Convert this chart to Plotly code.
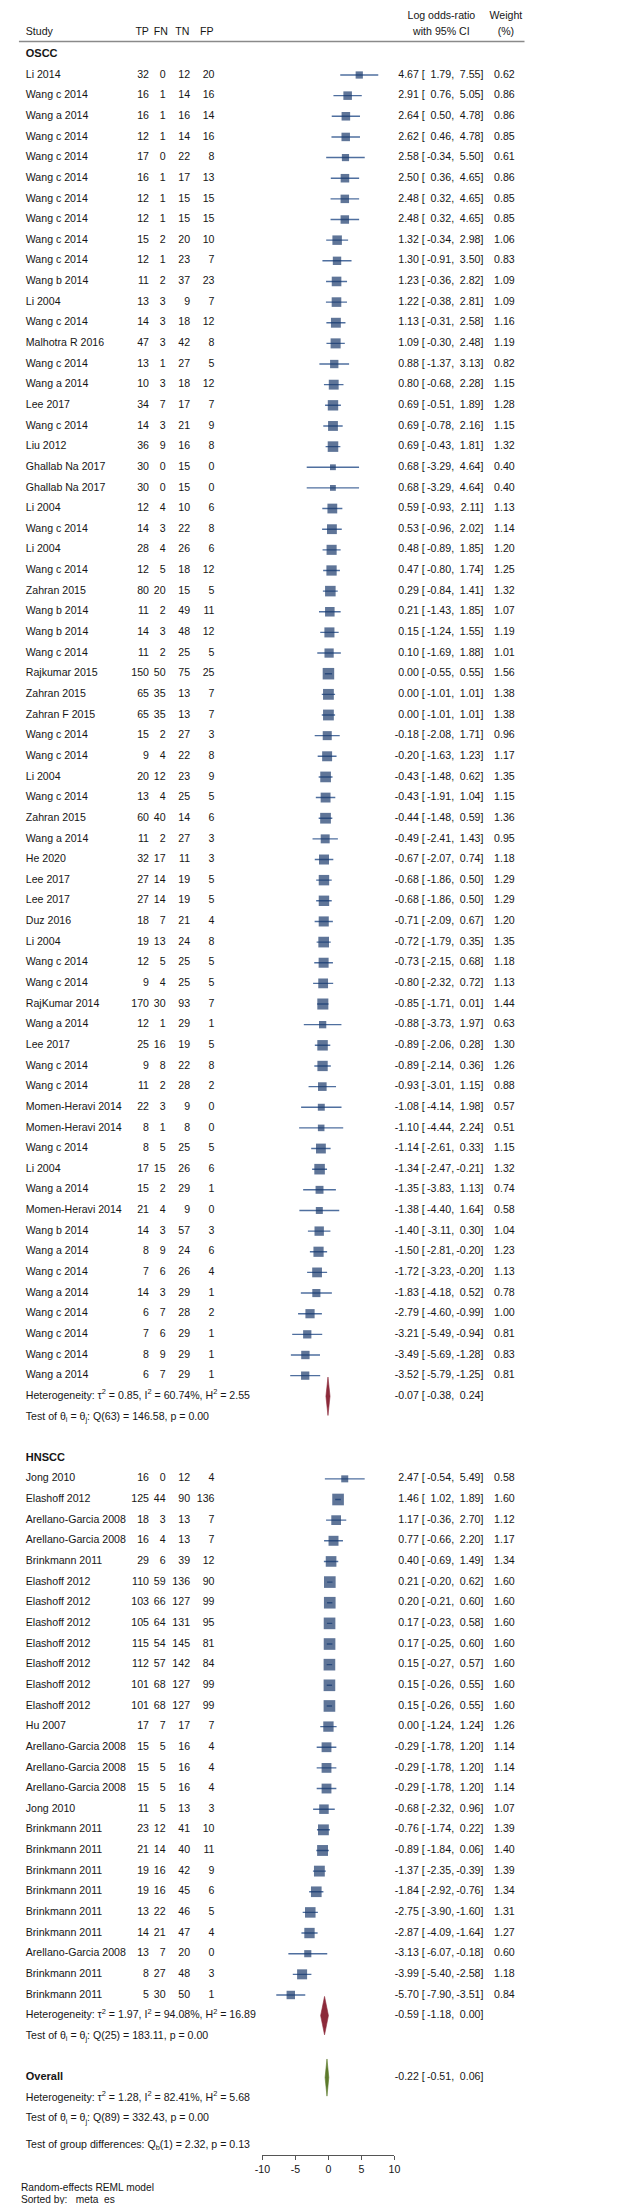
import math
import plotly.graph_objects as go

# ---------------- data ----------------
oscc_study = ["Li 2014", "Wang c 2014", "Wang a 2014", "Wang c 2014", "Wang c 2014", "Wang c 2014",
              "Wang c 2014", "Wang c 2014", "Wang c 2014", "Wang c 2014", "Wang b 2014", "Li 2004",
              "Wang c 2014", "Malhotra R 2016", "Wang c 2014", "Wang a 2014", "Lee 2017", "Wang c 2014",
              "Liu 2012", "Ghallab Na 2017", "Ghallab Na 2017", "Li 2004", "Wang c 2014", "Li 2004",
              "Wang c 2014", "Zahran 2015", "Wang b 2014", "Wang b 2014", "Wang c 2014", "Rajkumar 2015",
              "Zahran 2015", "Zahran F 2015", "Wang c 2014", "Wang c 2014", "Li 2004", "Wang c 2014",
              "Zahran 2015", "Wang a 2014", "He 2020", "Lee 2017", "Lee 2017", "Duz 2016", "Li 2004",
              "Wang c 2014", "Wang c 2014", "RajKumar 2014", "Wang a 2014", "Lee 2017", "Wang c 2014",
              "Wang c 2014", "Momen-Heravi 2014", "Momen-Heravi 2014", "Wang c 2014", "Li 2004",
              "Wang a 2014", "Momen-Heravi 2014", "Wang b 2014", "Wang a 2014", "Wang c 2014",
              "Wang a 2014", "Wang c 2014", "Wang c 2014", "Wang c 2014", "Wang a 2014"]
oscc_tp = [32, 16, 16, 12, 17, 16, 12, 12, 15, 12, 11, 13, 14, 47, 13, 10, 34, 14, 36, 30, 30, 12, 14, 28,
           12, 80, 11, 14, 11, 150, 65, 65, 15, 9, 20, 13, 60, 11, 32, 27, 27, 18, 19, 12, 9, 170, 12, 25,
           9, 11, 22, 8, 8, 17, 15, 21, 14, 8, 7, 14, 6, 7, 8, 6]
oscc_fn = [0, 1, 1, 1, 0, 1, 1, 1, 2, 1, 2, 3, 3, 3, 1, 3, 7, 3, 9, 0, 0, 4, 3, 4, 5, 20, 2, 3, 2, 50, 35,
           35, 2, 4, 12, 4, 40, 2, 17, 14, 14, 7, 13, 5, 4, 30, 1, 16, 8, 2, 3, 1, 5, 15, 2, 4, 3, 9, 6, 3,
           7, 6, 9, 7]
oscc_tn = [12, 14, 16, 14, 22, 17, 15, 15, 20, 23, 37, 9, 18, 42, 27, 18, 17, 21, 16, 15, 15, 10, 22, 26,
           18, 15, 49, 48, 25, 75, 13, 13, 27, 22, 23, 25, 14, 27, 11, 19, 19, 21, 24, 25, 25, 93, 29, 19,
           22, 28, 9, 8, 25, 26, 29, 9, 57, 24, 26, 29, 28, 29, 29, 29]
oscc_fp = [20, 16, 14, 16, 8, 13, 15, 15, 10, 7, 23, 7, 12, 8, 5, 12, 7, 9, 8, 0, 0, 6, 8, 6, 12, 5, 11,
           12, 5, 25, 7, 7, 3, 8, 9, 5, 6, 3, 3, 5, 5, 4, 8, 5, 5, 7, 1, 5, 8, 2, 0, 0, 5, 6, 1, 0, 3, 6,
           4, 1, 2, 1, 1, 1]
oscc_es = [4.67, 2.91, 2.64, 2.62, 2.58, 2.50, 2.48, 2.48, 1.32, 1.30, 1.23, 1.22, 1.13, 1.09, 0.88, 0.80,
           0.69, 0.69, 0.69, 0.68, 0.68, 0.59, 0.53, 0.48, 0.47, 0.29, 0.21, 0.15, 0.10, 0.00, 0.00, 0.00,
           -0.18, -0.20, -0.43, -0.43, -0.44, -0.49, -0.67, -0.68, -0.68, -0.71, -0.72, -0.73, -0.80,
           -0.85, -0.88, -0.89, -0.89, -0.93, -1.08, -1.10, -1.14, -1.34, -1.35, -1.38, -1.40, -1.50,
           -1.72, -1.83, -2.79, -3.21, -3.49, -3.52]
oscc_lo = [1.79, 0.76, 0.50, 0.46, -0.34, 0.36, 0.32, 0.32, -0.34, -0.91, -0.36, -0.38, -0.31, -0.30,
           -1.37, -0.68, -0.51, -0.78, -0.43, -3.29, -3.29, -0.93, -0.96, -0.89, -0.80, -0.84, -1.43,
           -1.24, -1.69, -0.55, -1.01, -1.01, -2.08, -1.63, -1.48, -1.91, -1.48, -2.41, -2.07, -1.86,
           -1.86, -2.09, -1.79, -2.15, -2.32, -1.71, -3.73, -2.06, -2.14, -3.01, -4.14, -4.44, -2.61,
           -2.47, -3.83, -4.40, -3.11, -2.81, -3.23, -4.18, -4.60, -5.49, -5.69, -5.79]
oscc_hi = [7.55, 5.05, 4.78, 4.78, 5.50, 4.65, 4.65, 4.65, 2.98, 3.50, 2.82, 2.81, 2.58, 2.48, 3.13, 2.28,
           1.89, 2.16, 1.81, 4.64, 4.64, 2.11, 2.02, 1.85, 1.74, 1.41, 1.85, 1.55, 1.88, 0.55, 1.01, 1.01,
           1.71, 1.23, 0.62, 1.04, 0.59, 1.43, 0.74, 0.50, 0.50, 0.67, 0.35, 0.68, 0.72, 0.01, 1.97, 0.28,
           0.36, 1.15, 1.98, 2.24, 0.33, -0.21, 1.13, 1.64, 0.30, -0.20, -0.20, 0.52, -0.99, -0.94, -1.28,
           -1.25]
oscc_w = [0.62, 0.86, 0.86, 0.85, 0.61, 0.86, 0.85, 0.85, 1.06, 0.83, 1.09, 1.09, 1.16, 1.19, 0.82, 1.15,
          1.28, 1.15, 1.32, 0.40, 0.40, 1.13, 1.14, 1.20, 1.25, 1.32, 1.07, 1.19, 1.01, 1.56, 1.38, 1.38,
          0.96, 1.17, 1.35, 1.15, 1.36, 0.95, 1.18, 1.29, 1.29, 1.20, 1.35, 1.18, 1.13, 1.44, 0.63, 1.30,
          1.26, 0.88, 0.57, 0.51, 1.15, 1.32, 0.74, 0.58, 1.04, 1.23, 1.13, 0.78, 1.00, 0.81, 0.83, 0.81]

hnscc_study = ["Jong 2010", "Elashoff 2012", "Arellano-Garcia 2008", "Arellano-Garcia 2008",
               "Brinkmann 2011", "Elashoff 2012", "Elashoff 2012", "Elashoff 2012", "Elashoff 2012",
               "Elashoff 2012", "Elashoff 2012", "Elashoff 2012", "Hu 2007", "Arellano-Garcia 2008",
               "Arellano-Garcia 2008", "Arellano-Garcia 2008", "Jong 2010", "Brinkmann 2011",
               "Brinkmann 2011", "Brinkmann 2011", "Brinkmann 2011", "Brinkmann 2011", "Brinkmann 2011",
               "Arellano-Garcia 2008", "Brinkmann 2011", "Brinkmann 2011"]
hnscc_tp = [16, 125, 18, 16, 29, 110, 103, 105, 115, 112, 101, 101, 17, 15, 15, 15, 11, 23, 21, 19, 19, 13,
            14, 13, 8, 5]
hnscc_fn = [0, 44, 3, 4, 6, 59, 66, 64, 54, 57, 68, 68, 7, 5, 5, 5, 5, 12, 14, 16, 16, 22, 21, 7, 27, 30]
hnscc_tn = [12, 90, 13, 13, 39, 136, 127, 131, 145, 142, 127, 127, 17, 16, 16, 16, 13, 41, 40, 42, 45, 46,
            47, 20, 48, 50]
hnscc_fp = [4, 136, 7, 7, 12, 90, 99, 95, 81, 84, 99, 99, 7, 4, 4, 4, 3, 10, 11, 9, 6, 5, 4, 0, 3, 1]
hnscc_es = [2.47, 1.46, 1.17, 0.77, 0.40, 0.21, 0.20, 0.17, 0.17, 0.15, 0.15, 0.15, 0.00, -0.29, -0.29,
            -0.29, -0.68, -0.76, -0.89, -1.37, -1.84, -2.75, -2.87, -3.13, -3.99, -5.70]
hnscc_lo = [-0.54, 1.02, -0.36, -0.66, -0.69, -0.20, -0.21, -0.23, -0.25, -0.27, -0.26, -0.26, -1.24,
            -1.78, -1.78, -1.78, -2.32, -1.74, -1.84, -2.35, -2.92, -3.90, -4.09, -6.07, -5.40, -7.90]
hnscc_hi = [5.49, 1.89, 2.70, 2.20, 1.49, 0.62, 0.60, 0.58, 0.60, 0.57, 0.55, 0.55, 1.24, 1.20, 1.20,
            1.20, 0.96, 0.22, 0.06, -0.39, -0.76, -1.60, -1.64, -0.18, -2.58, -3.51]
hnscc_w = [0.58, 1.60, 1.12, 1.17, 1.34, 1.60, 1.60, 1.60, 1.60, 1.60, 1.60, 1.60, 1.26, 1.14, 1.14, 1.14,
           1.07, 1.39, 1.40, 1.39, 1.34, 1.31, 1.27, 0.60, 1.18, 0.84]

# summary effects: [es, lo, hi]
oscc_summary = [-0.07, -0.38, 0.24]
hnscc_summary = [-0.59, -1.18, 0.00]
overall_summary = [-0.22, -0.51, 0.06]

oscc_het = "Heterogeneity: τ<sup>2</sup> = 0.85, I<sup>2</sup> = 60.74%, H<sup>2</sup> = 2.55"
oscc_test = "Test of θ<sub>i</sub> = θ<sub>j</sub>: Q(63) = 146.58, p = 0.00"
hnscc_het = "Heterogeneity: τ<sup>2</sup> = 1.97, I<sup>2</sup> = 94.08%, H<sup>2</sup> = 16.89"
hnscc_test = "Test of θ<sub>i</sub> = θ<sub>j</sub>: Q(25) = 183.11, p = 0.00"
overall_het = "Heterogeneity: τ<sup>2</sup> = 1.28, I<sup>2</sup> = 82.41%, H<sup>2</sup> = 5.68"
overall_test = "Test of θ<sub>i</sub> = θ<sub>j</sub>: Q(89) = 332.43, p = 0.00"
group_test = "Test of group differences: Q<sub>b</sub>(1) = 2.32, p = 0.13"
footer = ["Random-effects REML model", "Sorted by: _meta_es"]

tick_vals = [-10, -5, 0, 5, 10]
tick_text = ["-10", "-5", "0", "5", "10"]

# ---------------- layout helpers ----------------
W, H = 633, 2204
ROW = 20.645      # px per row
OFF = 46.35       # px of row 0


def px2row(p):
    return (p - OFF) / ROW


FONT = "Liberation Sans, Arial, sans-serif"
TXT = "#161616"
NAVY = "#1b3b6c"
CI = "#4f6f9f"
MAROON = "#8c2a3a"
GREEN = "#5d7a2c"
FS = 10.6

n1, n2 = len(oscc_study), len(hnscc_study)
rows1 = [1 + i for i in range(n1)]
het1, test1 = n1 + 1, n1 + 2
lab2 = n1 + 4
rows2 = [lab2 + 1 + i for i in range(n2)]
het2, test2 = rows2[-1] + 1, rows2[-1] + 2
ov_row = test2 + 2
ov_het, ov_test = ov_row + 1, ov_row + 2

# column anchors (px)
X_STUDY, X_TP, X_FN, X_TN, X_FP = 10, 136, 153, 178, 203
X_ES, X_BR, X_LO, X_HI, X_W = 412, 415, 448, 478, 510

fig = go.Figure()


def text_col(x, ys, texts, pos, size=FS, color=TXT):
    fig.add_trace(go.Scatter(x=[x] * len(ys), y=ys, mode="text", text=texts, textposition=pos,
                             textfont=dict(size=size, color=color, family=FONT),
                             xaxis="x2", yaxis="y", hoverinfo="skip", cliponaxis=False,
                             showlegend=False))


def f2(v):
    return f"{v:.2f}"


def ci_cols(rows, es, lo, hi):
    text_col(X_ES, rows, [f2(v) for v in es], "middle left")
    text_col(X_BR, rows, ["["] * len(rows), "middle right")
    text_col(X_LO, rows, [f2(v) + "," for v in lo], "middle left")
    text_col(X_HI, rows, [f2(v) + "]" for v in hi], "middle left")


def study_block(rows, study, tp, fn, tn, fp, es, lo, hi, w):
    fig.add_trace(go.Scatter(
        x=es, y=rows, mode="markers", xaxis="x", yaxis="y",
        marker=dict(symbol="square", color=NAVY, size=[9.2 * math.sqrt(v) for v in w], line=dict(width=0)),
        error_x=dict(type="data", symmetric=False, array=[h - e for h, e in zip(hi, es)],
                     arrayminus=[e - l for e, l in zip(es, lo)], width=0, thickness=1.4, color=CI),
        hoverinfo="skip", showlegend=False, cliponaxis=False))
    text_col(X_STUDY, rows, study, "middle right")
    text_col(X_TP, rows, [str(v) for v in tp], "middle left")
    text_col(X_FN, rows, [str(v) for v in fn], "middle left")
    text_col(X_TN, rows, [str(v) for v in tn], "middle left")
    text_col(X_FP, rows, [str(v) for v in fp], "middle left")
    ci_cols(rows, es, lo, hi)
    text_col(X_W, rows, [f2(v) for v in w], "middle left")


def diamond(summary, row, color, half=0.93):
    es, lo, hi = summary
    fig.add_trace(go.Scatter(x=[lo, es, hi, es, lo], y=[row, row - half, row, row + half, row],
                             mode="lines", fill="toself", fillcolor=color,
                             line=dict(color=color, width=0.6), xaxis="x", yaxis="y",
                             hoverinfo="skip", showlegend=False))
    ci_cols([row], [es], [lo], [hi])


study_block(rows1, oscc_study, oscc_tp, oscc_fn, oscc_tn, oscc_fp, oscc_es, oscc_lo, oscc_hi, oscc_w)
study_block(rows2, hnscc_study, hnscc_tp, hnscc_fn, hnscc_tn, hnscc_fp, hnscc_es, hnscc_lo, hnscc_hi,
            hnscc_w)
diamond(oscc_summary, het1, MAROON)
diamond(hnscc_summary, het2, MAROON)
diamond(overall_summary, ov_row, GREEN, half=0.9)

# group labels and statistics
text_col(X_STUDY, [0, lab2, ov_row], ["<b>OSCC</b>", "<b>HNSCC</b>", "<b>Overall</b>"], "middle right",
         size=11)
text_col(X_STUDY, [het1, test1, het2, test2, ov_het, ov_test, px2row(2137)],
         [oscc_het, oscc_test, hnscc_het, hnscc_test, overall_het, overall_test, group_test],
         "middle right")
text_col(5, [px2row(2180), px2row(2192)], footer, "middle right", size=10.2)

# header
text_col(X_STUDY, [px2row(24)], ["Study"], "middle right")
for lbl, xc in [("TP", 129), ("FN", 148), ("TN", 170), ("FP", 195)]:
    text_col(xc, [px2row(24)], [lbl], "middle center")
text_col(435, [px2row(8), px2row(24)], ["Log odds-ratio", "with 95% CI"], "middle center")
text_col(501, [px2row(8), px2row(24)], ["Weight", "(%)"], "middle center")

fig.add_shape(type="line", xref="paper", yref="y", x0=3 / W, x1=520 / W,
              y0=px2row(33.5), y1=px2row(33.5), line=dict(color="#8a8a8a", width=1.5))

fig.update_layout(
    width=W, height=H, margin=dict(l=0, r=0, t=0, b=0),
    paper_bgcolor="white", plot_bgcolor="rgba(0,0,0,0)", showlegend=False,
    font=dict(family=FONT, size=FS, color=TXT),
    xaxis=dict(domain=[252 / W, 387 / W], range=[-10, 10], anchor="free", position=1 - 2147 / H,
               showline=True, linecolor="#555555", linewidth=1, ticks="outside", ticklen=4,
               tickcolor="#555555", tickvals=tick_vals, ticktext=tick_text, showgrid=False,
               zeroline=False, tickfont=dict(size=10.6, color=TXT, family=FONT), fixedrange=True),
    xaxis2=dict(domain=[0, 1], range=[0, W], anchor="y", visible=False, showgrid=False,
                zeroline=False, fixedrange=True),
    yaxis=dict(domain=[0, 1], range=[px2row(H), px2row(0)], visible=False, showgrid=False,
               zeroline=False, fixedrange=True),
)

fig.write_html("out.html")
